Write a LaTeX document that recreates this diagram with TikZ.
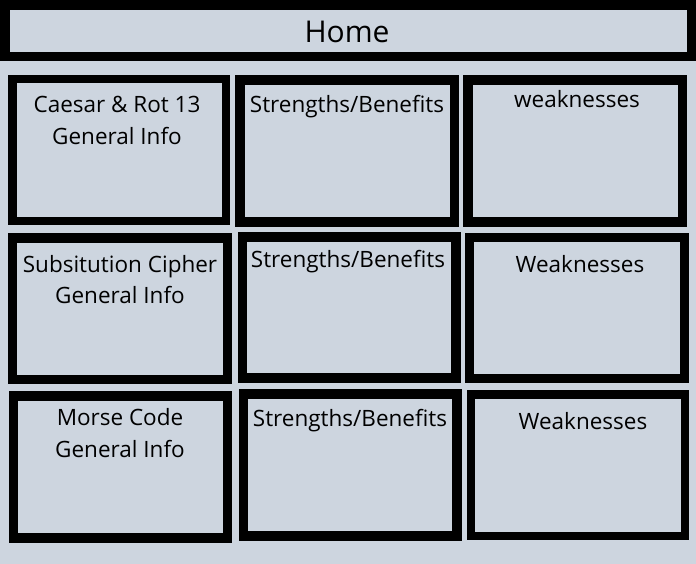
\documentclass[tikz,border=0pt]{standalone}
\usepackage{fontspec}
\setmainfont{Open Sans}
\definecolor{bg}{HTML}{CDD5DF}
\begin{document}
\begin{tikzpicture}[x=1pt,y=-1pt,
  frame/.style={draw=black, fill=bg, line width=#1},
  frame/.default=9,
  lbl/.style={anchor=base, inner sep=0pt, font=\fontsize{22.5}{26}\selectfont},
  title/.style={anchor=base, inner sep=0pt, font=\fontsize{30}{36}\selectfont}]
\fill[bg] (0,0) rectangle (696,564);
\useasboundingbox (0,0) rectangle (696,564);
% top bar
\draw[frame=9.5] (5,5) rectangle (692,56.5);
\node[title] (home) at (347,43) {Home};
% row 1
\draw[frame=8.75] (12.5,79) rectangle (226,221);
\draw[frame=9.25] (240,80) rectangle (454.5,222);
\draw[frame=9.75] (468,80) rectangle (682.5,222);
% row 2
\draw[frame=9.25] (12.5,238) rectangle (227.5,379.5);
\draw[frame=9.25] (242.5,237) rectangle (456,378);
\draw[frame=9] (469.5,237.5) rectangle (684,378.5);
% row 3
\draw[frame=9.5] (13.5,396) rectangle (227.5,538);
\draw[frame=9.25] (243.5,394) rectangle (457,536);
\draw[frame=8.75] (471,394.5) rectangle (685,536);
% labels
\node[lbl] (c1a) at (117,113) {Caesar \& Rot 13};
\node[lbl] (c1b) at (117,145) {General Info};
\node[lbl] (s1) at (347,113) {Strengths/Benefits};
\node[lbl] (w1) at (577,108) {weaknesses};
\node[lbl] (c2a) at (120,272) {Subsitution Cipher};
\node[lbl] (c2b) at (120,303) {General Info};
\node[lbl] (s2) at (348,267) {Strengths/Benefits};
\node[lbl] (w2) at (580,272) {Weaknesses};
\node[lbl] (c3a) at (120,425) {Morse Code};
\node[lbl] (c3b) at (120,457) {General Info};
\node[lbl] (s3) at (350,426) {Strengths/Benefits};
\node[lbl] (w3) at (583,429) {Weaknesses};
\end{tikzpicture}
\end{document}
